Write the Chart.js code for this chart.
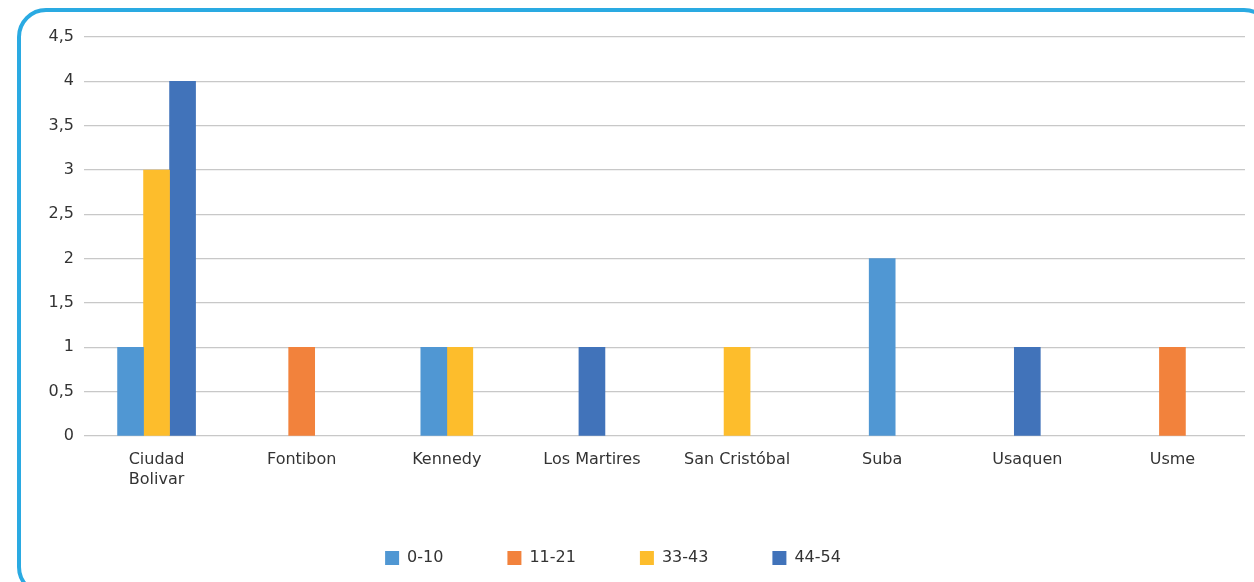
<!DOCTYPE html>
<html>
<head>
<meta charset="utf-8">
<script src="https://cdn.jsdelivr.net/npm/chart.js@4.4.1/dist/chart.umd.min.js"></script>
<style>
    html, body { margin: 0; padding: 0; background: #fff; overflow: hidden; width: 1254px; height: 582px; }
    #wrap { position: absolute; left: -19px; top: 0; width: 1264px; height: 576px; }
    #frame {
        position: absolute; left: 17px; top: 8px; width: 1248px; height: 580px;
        border: 4px solid #2aaae2; border-radius: 29px; pointer-events: none;
    }
</style>
</head>
<body>
<div id="wrap"><canvas id="chart"></canvas></div>
<div id="frame"></div>
<script>
const localidades = [['Ciudad', 'Bolivar'], 'Fontibon', 'Kennedy', 'Los Martires', 'San Cristóbal', 'Suba', 'Usaquen', 'Usme'];
const grupos = ['0-10', '11-21', '33-43', '44-54'];
const edad0a10 = [1, null, 1, null, null, 2, null, null];
const edad11a21 = [null, 1, null, null, null, null, null, 1];
const edad33a43 = [3, null, 1, null, 1, null, null, null];
const edad44a54 = [4, null, null, 1, null, null, 1, null];
const colores = ['#5097d3', '#f2823c', '#fdbd2c', '#4173ba'];

const series = [edad0a10, edad11a21, edad33a43, edad44a54];
const fuente = { family: '"DejaVu Sans", sans-serif', size: 16, lineHeight: 1.25 };

const ctx = document.getElementById('chart').getContext('2d');
new Chart(ctx, {
    type: 'bar',
    data: {
        labels: localidades,
        datasets: series.map((valores, i) => ({
            label: grupos[i],
            data: valores,
            backgroundColor: colores[i],
            borderWidth: 0,
            barThickness: 26,
        })),
    },
    options: {
        responsive: true,
        maintainAspectRatio: false,
        animation: false,
        skipNull: true,
        layout: { padding: { top: 37, left: 0, right: 0, bottom: 0 } },
        plugins: {
            tooltip: { enabled: false },
            legend: {
                position: 'bottom',
                labels: {
                    boxWidth: 14,
                    boxHeight: 14,
                    padding: 64,
                    color: '#333',
                    font: { family: fuente.family, size: 16 },
                },
            },
        },
        scales: {
            x: {
                grid: { display: false, drawTicks: false },
                border: { display: false },
                ticks: { color: '#333', font: fuente, padding: 14, maxRotation: 0, autoSkip: false },
                afterFit: (scale) => { scale.height = 50; },
            },
            y: {
                min: 0,
                max: 4.5,
                grid: { color: '#c8c8c8', lineWidth: 1.2, drawTicks: false },
                border: { display: false },
                ticks: {
                    stepSize: 0.5,
                    padding: 10,
                    color: '#333',
                    font: fuente,
                    callback: (v) => String(v).replace('.', ','), // coma decimal
                },
                afterFit: (scale) => { scale.width = 103; },
            },
        },
    },
});
</script>
</body>
</html>
